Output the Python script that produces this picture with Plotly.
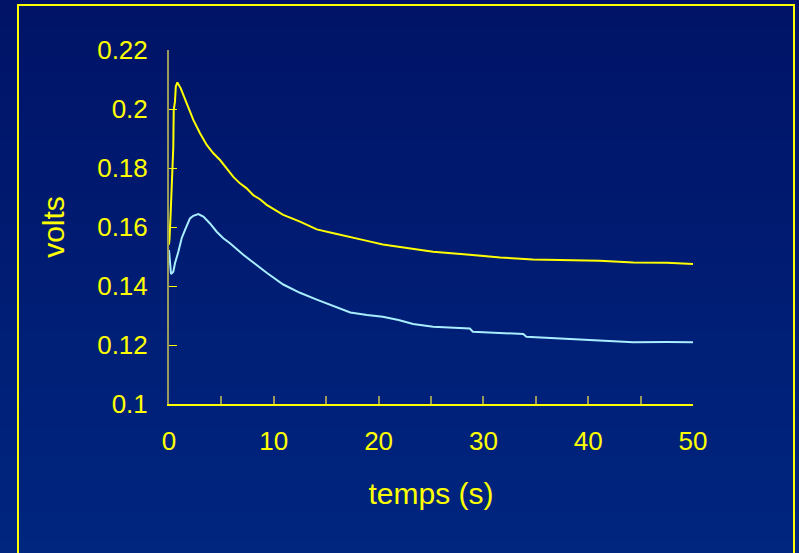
import plotly.graph_objects as go

# ---- data ----
t_yellow = [0.0, 0.05, 0.15, 0.29, 0.41, 0.45, 0.57, 0.65, 0.8, 1.12, 1.69, 2.32, 2.96, 3.6, 4.23,
            4.87, 5.5, 6.14, 6.77, 7.41, 8.04, 8.68, 9.32, 10.9, 12.5, 14.1, 15.7, 17.3, 18.9,
            20.4, 22.4, 25.2, 28.4, 31.6, 34.7, 37.9, 41.1, 44.3, 47.5, 50.0]
v_yellow = [0.1540, 0.1560, 0.1640, 0.1793, 0.1872, 0.1997, 0.2025, 0.2076, 0.2090, 0.2070,
            0.2019, 0.1963, 0.1918, 0.1878, 0.1850, 0.1827, 0.1799, 0.1770, 0.1748, 0.1731,
            0.1708, 0.1694, 0.1675, 0.1641, 0.1618, 0.1592, 0.1579, 0.1567, 0.1553, 0.1541,
            0.1530, 0.1516, 0.1507, 0.1497, 0.1490, 0.1488, 0.1486, 0.1480, 0.1479, 0.1475]

t_blue = [0.0, 0.1, 0.19, 0.41, 0.57, 0.89, 1.21, 1.53, 2.0, 2.32, 2.8, 3.28, 3.91, 4.55, 5.18,
          5.82, 6.46, 7.09, 7.73, 8.68, 9.32, 10.9, 12.5, 14.1, 15.7, 17.3, 18.9, 20.4, 21.9,
          23.3, 25.2, 28.7, 29.0, 33.8, 34.1, 37.3, 41.1, 44.3, 47.5, 50.0]
v_blue = [0.1522, 0.1466, 0.1441, 0.1448, 0.1477, 0.1516, 0.1562, 0.1590, 0.1629, 0.1638,
          0.1644, 0.1635, 0.1612, 0.1584, 0.1562, 0.1545, 0.1524, 0.1506, 0.1488, 0.1462,
          0.1445, 0.1405, 0.1377, 0.1354, 0.1331, 0.1310, 0.1302, 0.1296, 0.1285, 0.1271,
          0.1262, 0.1256, 0.1245, 0.1237, 0.1228, 0.1222, 0.1215, 0.1209, 0.1210, 0.1209]

x_ticks = [0, 10, 20, 30, 40, 50]
y_ticks = [0.1, 0.12, 0.14, 0.16, 0.18, 0.2, 0.22]
y_labels = ["0.1", "0.12", "0.14", "0.16", "0.18", "0.2", "0.22"]

YEL = "#FFFF00"
OLIVE = "#9A9A5A"
FONT = "Liberation Sans, Arial, sans-serif"

fig = go.Figure()
fig.add_trace(go.Scatter(x=t_blue, y=v_blue, mode="lines",
                         line=dict(color="#A8EEFF", width=2), showlegend=False))
fig.add_trace(go.Scatter(x=t_yellow, y=v_yellow, mode="lines",
                         line=dict(color=YEL, width=2), showlegend=False))

# background gradient (pixel rows 0..553 mapped to paper coords)
L, T, W, H = 169, 50, 524, 354
shapes = []
n = 40
top = (0, 19, 102)
bot = (0, 38, 128)
for i in range(n):
    p0 = 553 * i / n
    p1 = 553 * (i + 1) / n + 1
    f = (i + 0.5) / n
    c = tuple(int(round(top[k] + (bot[k] - top[k]) * f)) for k in range(3))
    shapes.append(dict(type="rect", xref="paper", yref="paper", layer="below",
                       x0=(0 - L) / W, x1=(800 - L) / W,
                       y0=(T + H - p1) / H, y1=(T + H - p0) / H,
                       line=dict(width=0), fillcolor="rgb(%d,%d,%d)" % c))
# yellow frame
shapes.append(dict(type="rect", xref="paper", yref="paper", layer="above",
                   x0=(18 - L) / W, x1=(794 - L) / W,
                   y0=(T + H - 570) / H, y1=(T + H - 5) / H,
                   line=dict(color=YEL, width=2), fillcolor="rgba(0,0,0,0)"))

fig.update_layout(
    width=799, height=553,
    margin=dict(l=L, r=799 - L - W, t=T, b=553 - T - H),
    paper_bgcolor="rgb(0,28,115)",
    plot_bgcolor="rgba(0,0,0,0)",
    font=dict(family=FONT, color=YEL, size=26),
    shapes=shapes,
    xaxis=dict(range=[0, 50], tickvals=x_ticks, ticks="inside", ticklen=8, tickcolor=OLIVE,
               tickwidth=2, showline=True, linecolor=YEL, linewidth=2, showgrid=False,
               zeroline=False, ticklabelstandoff=13,
               minor=dict(dtick=5, ticks="inside", ticklen=8, tickcolor=OLIVE, tickwidth=2,
                          showgrid=False),
               title=dict(text="temps (s)", font=dict(size=30, color=YEL), standoff=28)),
    yaxis=dict(range=[0.1, 0.22], tickvals=y_ticks, ticktext=y_labels, ticks="inside",
               ticklen=8, tickcolor=YEL, tickwidth=1, showline=True, linecolor=OLIVE,
               linewidth=2, showgrid=False, zeroline=False, ticklabelstandoff=14,
               title=dict(text="volts", font=dict(size=30, color=YEL), standoff=24)),
)

fig.write_html("out.html")
